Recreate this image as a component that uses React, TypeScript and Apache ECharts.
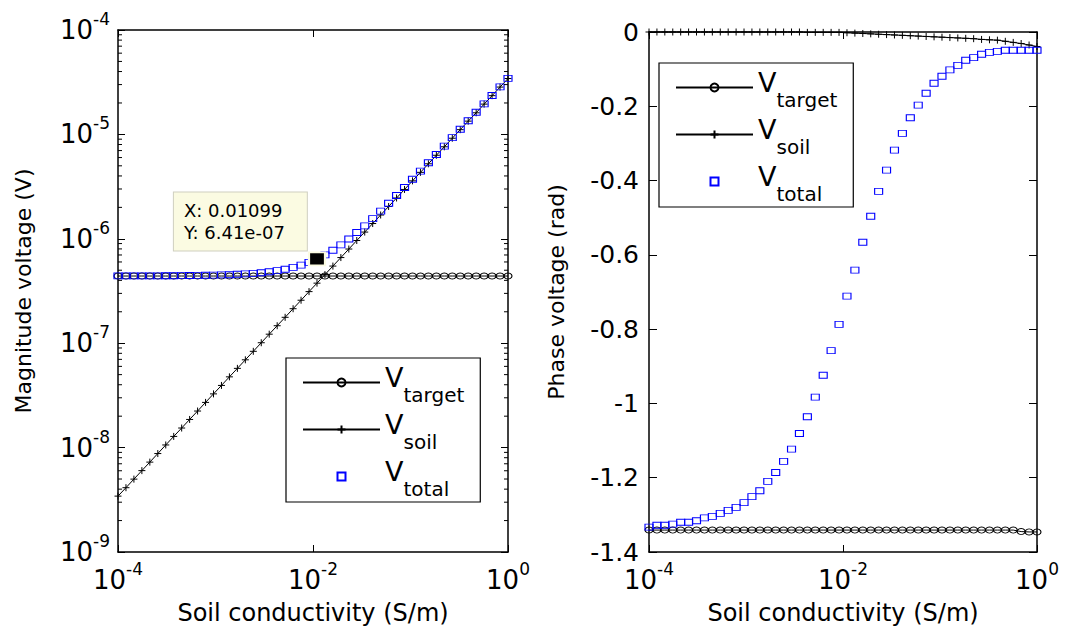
import React, { useEffect, useRef } from 'react';
import * as echarts from 'echarts';

// ---------------- data ----------------
const sigma = [
  1.000e-4, 1.207e-4, 1.456e-4, 1.758e-4, 2.121e-4, 2.560e-4, 3.089e-4, 3.728e-4, 4.498e-4, 5.429e-4,
  6.551e-4, 7.906e-4, 9.541e-4, 1.151e-3, 1.389e-3, 1.677e-3, 2.024e-3, 2.442e-3, 2.947e-3, 3.556e-3,
  4.292e-3, 5.179e-3, 6.251e-3, 7.543e-3, 9.103e-3, 1.099e-2, 1.326e-2, 1.600e-2, 1.931e-2, 2.330e-2,
  2.812e-2, 3.393e-2, 4.095e-2, 4.942e-2, 5.964e-2, 7.197e-2, 8.685e-2, 1.048e-1, 1.265e-1, 1.526e-1,
  1.842e-1, 2.223e-1, 2.683e-1, 3.237e-1, 3.907e-1, 4.715e-1, 5.690e-1, 6.866e-1, 8.286e-1, 1.000,
];

const magTarget = [
  4.4e-7, 4.4e-7, 4.4e-7, 4.4e-7, 4.4e-7, 4.4e-7, 4.4e-7, 4.4e-7, 4.4e-7, 4.4e-7,
  4.4e-7, 4.4e-7, 4.4e-7, 4.4e-7, 4.4e-7, 4.4e-7, 4.4e-7, 4.4e-7, 4.4e-7, 4.4e-7,
  4.4e-7, 4.4e-7, 4.4e-7, 4.4e-7, 4.4e-7, 4.4e-7, 4.4e-7, 4.4e-7, 4.4e-7, 4.4e-7,
  4.4e-7, 4.4e-7, 4.4e-7, 4.4e-7, 4.4e-7, 4.4e-7, 4.4e-7, 4.4e-7, 4.4e-7, 4.4e-7,
  4.4e-7, 4.4e-7, 4.4e-7, 4.4e-7, 4.4e-7, 4.4e-7, 4.4e-7, 4.4e-7, 4.4e-7, 4.4e-7,
];

const magSoil = [
  3.43e-9, 4.13e-9, 4.99e-9, 6.02e-9, 7.26e-9, 8.77e-9, 1.06e-8, 1.28e-8, 1.54e-8, 1.86e-8,
  2.24e-8, 2.71e-8, 3.27e-8, 3.94e-8, 4.76e-8, 5.74e-8, 6.93e-8, 8.36e-8, 1.01e-7, 1.22e-7,
  1.47e-7, 1.77e-7, 2.14e-7, 2.58e-7, 3.12e-7, 3.76e-7, 4.54e-7, 5.48e-7, 6.61e-7, 7.98e-7,
  9.63e-7, 1.16e-6, 1.40e-6, 1.69e-6, 2.04e-6, 2.46e-6, 2.97e-6, 3.59e-6, 4.33e-6, 5.23e-6,
  6.31e-6, 7.61e-6, 9.19e-6, 1.11e-5, 1.34e-5, 1.61e-5, 1.95e-5, 2.35e-5, 2.84e-5, 3.43e-5,
];

const magTotal = [
  4.41e-7, 4.41e-7, 4.41e-7, 4.41e-7, 4.42e-7, 4.42e-7, 4.43e-7, 4.43e-7, 4.44e-7, 4.45e-7,
  4.46e-7, 4.47e-7, 4.49e-7, 4.51e-7, 4.53e-7, 4.57e-7, 4.61e-7, 4.66e-7, 4.73e-7, 4.83e-7,
  4.95e-7, 5.11e-7, 5.32e-7, 5.59e-7, 5.95e-7, 6.41e-7, 7.01e-7, 7.77e-7, 8.74e-7, 9.96e-7,
  1.15e-6, 1.33e-6, 1.56e-6, 1.84e-6, 2.19e-6, 2.60e-6, 3.10e-6, 3.72e-6, 4.45e-6, 5.35e-6,
  6.42e-6, 7.73e-6, 9.30e-6, 1.12e-5, 1.35e-5, 1.63e-5, 1.96e-5, 2.36e-5, 2.85e-5, 3.44e-5,
];

const phaseTarget = [
  -1.341, -1.341, -1.341, -1.341, -1.341, -1.341, -1.341, -1.341, -1.341, -1.341,
  -1.341, -1.341, -1.341, -1.341, -1.341, -1.341, -1.341, -1.341, -1.341, -1.341,
  -1.341, -1.341, -1.341, -1.341, -1.341, -1.341, -1.341, -1.341, -1.341, -1.341,
  -1.341, -1.341, -1.341, -1.341, -1.341, -1.341, -1.341, -1.341, -1.341, -1.341,
  -1.341, -1.341, -1.341, -1.341, -1.341, -1.341, -1.341, -1.345, -1.346, -1.346,
];

const phaseSoil = [
  0, 0, 0, 0, 0, 0, 0, 0, 0, 0,
  0, 0, 0, 0, 0, 0, 0, 0, 0, 0,
  -0.001, -0.001, -0.001, -0.001, -0.001, -0.002, -0.003, -0.004, -0.005, -0.006,
  -0.007, -0.008, -0.009, -0.010, -0.011, -0.012, -0.013, -0.014, -0.015, -0.016,
  -0.017, -0.018, -0.020, -0.021, -0.022, -0.025, -0.028, -0.031, -0.035, -0.039,
];

const phaseTotal = [
  -1.333, -1.328, -1.328, -1.325, -1.320, -1.320, -1.316, -1.308, -1.304, -1.296,
  -1.288, -1.280, -1.267, -1.251, -1.235, -1.210, -1.186, -1.156, -1.123, -1.081,
  -1.036, -0.983, -0.924, -0.858, -0.787, -0.711, -0.641, -0.566, -0.496, -0.429,
  -0.372, -0.318, -0.273, -0.231, -0.197, -0.165, -0.138, -0.119, -0.102, -0.090,
  -0.076, -0.069, -0.060, -0.055, -0.052, -0.049, -0.049, -0.049, -0.049, -0.049,
];

const xTicks = [1e-4, 1e-2, 1];
const magDecades = [1e-9, 1e-8, 1e-7, 1e-6, 1e-5];
const minorMantissas = [2, 3, 4, 5, 6, 7, 8, 9];
const names = ['Vtarget', 'Vsoil', 'Vtotal'];
const tipX = 0.01099;
const tipY = 6.41e-7;
const tipText = 'X: 0.01099\nY: 6.41e-07';

// ---------------- styling ----------------
const FONT = 'DejaVu Sans';
const PLUS = 'path://M0 5 L10 5 M5 0 L5 10';

const pow10 = (v: number) => `{b|10}{s|${Math.round(Math.log10(v))}}`;
const powRich = {
  b: { fontFamily: FONT, fontSize: 26, color: '#000', lineHeight: 30 },
  s: { fontFamily: FONT, fontSize: 17, color: '#000', lineHeight: 17, padding: [0, 0, 22, 0] },
};

const legendRich = {
  v: { fontFamily: FONT, fontSize: 27, color: '#000', lineHeight: 30, padding: [0, 0, 10, 0] },
  sub: { fontFamily: FONT, fontSize: 20, color: '#000', lineHeight: 20, padding: [25, 0, 0, 0] },
};

const pairs = (ys: number[]) => sigma.map((x, i) => [x, ys[i]]);

const axisLine = { show: true, onZero: false, lineStyle: { color: '#000', width: 1.5 } };

function logX(gridIndex: number, top: boolean) {
  return {
    type: 'log',
    logBase: 10,
    gridIndex,
    position: top ? 'top' : 'bottom',
    min: 1e-4,
    max: 1,
    axisLine,
    axisTick: { show: true, inside: true, length: 7, customValues: xTicks, lineStyle: { color: '#000', width: 1 } },
    axisLabel: top
      ? { show: false }
      : { show: true, customValues: xTicks, formatter: pow10, rich: powRich, margin: 13 },
    splitLine: { show: false },
    minorTick: { show: false },
    name: top ? '' : 'Soil conductivity (S/m)',
    nameLocation: 'middle',
    nameGap: 47,
    nameMoveOverlap: false,
    nameTextStyle: { fontFamily: FONT, fontSize: 24, lineHeight: 28, color: '#000' },
  };
}

function magY(right: boolean) {
  return {
    type: 'log',
    logBase: 10,
    gridIndex: 0,
    position: right ? 'right' : 'left',
    min: 1e-9,
    max: 1e-4,
    axisLine,
    axisTick: { show: true, inside: true, length: 7, lineStyle: { color: '#000', width: 1 } },
    minorTick: { show: false },
    axisLabel: right ? { show: false } : { show: true, formatter: pow10, rich: powRich, margin: 8 },
    splitLine: { show: false },
    name: right ? '' : 'Magnitude voltage (V)',
    nameLocation: 'middle',
    nameGap: 84,
    nameMoveOverlap: false,
    nameTextStyle: { fontFamily: FONT, fontSize: 22, color: '#000' },
  };
}

function phaseY(right: boolean) {
  return {
    type: 'value',
    gridIndex: 1,
    position: right ? 'right' : 'left',
    min: -1.4,
    max: 0,
    interval: 0.2,
    axisLine,
    axisTick: { show: true, inside: true, length: 8, lineStyle: { color: '#000', width: 1 } },
    axisLabel: right
      ? { show: false }
      : { show: true, fontFamily: FONT, fontSize: 25, color: '#000', margin: 10 },
    splitLine: { show: false },
    name: right ? '' : 'Phase voltage (rad)',
    nameLocation: 'middle',
    nameGap: 82,
    nameMoveOverlap: false,
    nameTextStyle: { fontFamily: FONT, fontSize: 22, color: '#000' },
  };
}

const clear = 'rgba(0,0,0,0)';

function seriesFor(gridIdx: number, target: number[], soil: number[], total: number[], withTip: boolean) {
  const ax = gridIdx === 0 ? 0 : 2;
  const common = { xAxisIndex: ax, yAxisIndex: ax, clip: false, silent: true, emphasis: { disabled: true } };
  const totalSeries: any = {
    ...common,
    type: 'line',
    name: names[2],
    data: pairs(total),
    symbol: 'rect',
    symbolSize: [8, 6],
    itemStyle: { color: clear, borderColor: '#0000ff', borderWidth: 1 },
    lineStyle: { color: '#0000ff', opacity: 0, width: 0 },
    z: 4,
  };
  if (withTip) {
    totalSeries.markPoint = {
      silent: true,
      symbol: 'rect',
      symbolSize: [16, 13],
      itemStyle: { color: '#000', borderColor: '#fbfbe2', borderWidth: 2 },
      label: {
        show: true,
        position: [-134, -59],
        align: 'left',
        verticalAlign: 'top',
        formatter: tipText,
        fontFamily: FONT,
        fontSize: 18,
        lineHeight: 22,
        color: '#000',
        backgroundColor: '#fbfbe2',
        borderColor: '#cfcfc0',
        borderWidth: 1,
        padding: [7, 22, 7, 10],
      },
      data: [{ coord: [tipX, tipY] }],
    };
  }
  return [
    {
      ...common,
      type: 'line',
      name: names[0],
      data: pairs(target),
      symbol: 'circle',
      symbolSize: [8, 6],
      itemStyle: { color: clear, borderColor: '#000', borderWidth: 1 },
      lineStyle: { color: '#000', width: 1 },
      z: 2,
    },
    {
      ...common,
      type: 'line',
      name: names[1],
      data: pairs(soil),
      symbol: PLUS,
      symbolSize: 7,
      itemStyle: { color: clear, borderColor: '#000', borderWidth: 1 },
      lineStyle: { color: '#000', width: 1 },
      z: 3,
    },
    totalSeries,
  ];
}

// minor ticks of the log magnitude axis (both sides of the box), placed through the axis scale
const minorTickValues: number[][] = [];
magDecades.forEach((d) => minorMantissas.forEach((m) => minorTickValues.push([1e-4, d * m])));

const minorTickSeries = {
  type: 'custom',
  name: 'minorTicks',
  xAxisIndex: 0,
  yAxisIndex: 0,
  silent: true,
  clip: false,
  z: 5,
  encode: { x: 0, y: 1 },
  data: minorTickValues,
  renderItem: (params: any, api: any) => {
    const v = api.value(1);
    const pl = api.coord([1e-4, v]);
    const pr = api.coord([1, v]);
    const st = { stroke: '#000', lineWidth: 1 };
    return {
      type: 'group',
      children: [
        { type: 'line', shape: { x1: pl[0], y1: pl[1], x2: pl[0] + 4, y2: pl[1] }, style: st },
        { type: 'line', shape: { x1: pr[0] - 4, y1: pr[1], x2: pr[0], y2: pr[1] }, style: st },
      ],
    };
  },
};

function legendAt(left: number, top: number) {
  return {
    left,
    top,
    orient: 'vertical',
    data: [
      { name: names[0] },
      { name: names[1] },
      { name: names[2], lineStyle: { opacity: 0 } },
    ],
    itemWidth: 77,
    itemHeight: 10,
    itemGap: 2,
    itemTextGap: 11,
    padding: [2, 16, 3, 16],
    borderColor: '#000',
    borderWidth: 1.2,
    backgroundColor: '#fff',
    selectedMode: false,
    formatter: (n: string) => `{v|V}{sub|${n.slice(1)}}`,
    textStyle: { rich: legendRich },
  };
}

export default function App() {
  const ref = useRef<HTMLDivElement>(null);
  useEffect(() => {
    if (!ref.current) return;
    const chart = echarts.init(ref.current, undefined, { renderer: 'svg' });
    chart.setOption({
      animation: false,
      backgroundColor: '#fff',
      textStyle: { fontFamily: FONT },
      grid: [
        { left: 118, top: 30, width: 390, height: 522, containLabel: false, outerBoundsMode: 'none' },
        { left: 649, top: 32, width: 388, height: 520, containLabel: false, outerBoundsMode: 'none' },
      ],
      xAxis: [logX(0, false), logX(0, true), logX(1, false), logX(1, true)],
      yAxis: [magY(false), magY(true), phaseY(false), phaseY(true)],
      legend: [legendAt(286, 358), legendAt(659, 63)],
      series: [
        ...seriesFor(0, magTarget, magSoil, magTotal, true),
        ...seriesFor(1, phaseTarget, phaseSoil, phaseTotal, false),
        minorTickSeries,
      ],
    });
    return () => chart.dispose();
  }, []);
  return (
    <div
      ref={ref}
      style={{ position: 'fixed', left: 0, top: 0, width: 1069, height: 628, background: '#fff' }}
    />
  );
}
